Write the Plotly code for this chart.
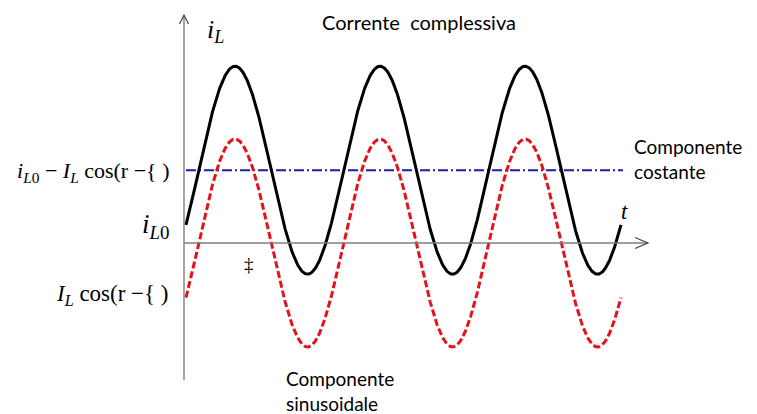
import numpy as np
import plotly.graph_objects as go

W, H = 757, 414

# Waveform parameters: time in periods, currents in units of I_L
n_periods = 3.0          # length of the drawn signal
t_peak = 0.338           # time of the first maximum of the sinusoidal part
I_L = 1.0                # amplitude of the sinusoidal component
i_L0_const = 0.70        # constant component
t_const_end = 3.014      # end of the constant-component line

t = np.linspace(0.0, n_periods, 1500)
i_sin = I_L * np.cos(2 * np.pi * (t - t_peak))
i_tot = i_L0_const + i_sin

# Scale of the drawing: pixels per period and per unit of current
X0, SX = 186.0, 145.0
Y0, SY = 243.0, 104.0


def tx(px):
    return (px - X0) / SX


def iy(py):
    return (Y0 - py) / SY


fig = go.Figure()

fig.add_trace(go.Scatter(
    x=[0.0, t_const_end], y=[i_L0_const, i_L0_const], mode="lines",
    line=dict(color="#1c1caa", width=2, dash="10px,3px,2px,3px"),
    hoverinfo="skip"))
fig.add_trace(go.Scatter(
    x=t, y=i_sin, mode="lines",
    line=dict(color="#e3121b", width=3, dash="7px,3px"),
    hoverinfo="skip"))
fig.add_trace(go.Scatter(
    x=t, y=i_tot, mode="lines",
    line=dict(color="#000000", width=3),
    hoverinfo="skip"))

axis_col = "#7f7f7f"
shapes = [
    # vertical axis with arrow
    dict(type="line", x0=tx(184), x1=tx(184), y0=iy(380), y1=iy(16),
         line=dict(color=axis_col, width=1.4)),
    dict(type="path",
         path=f"M {tx(179.5)} {iy(24)} L {tx(184)} {iy(15)} L {tx(188.5)} {iy(24)}",
         line=dict(color="#444444", width=1.2)),
    # horizontal axis with arrow
    dict(type="line", x0=tx(184), x1=tx(647), y0=0, y1=0,
         line=dict(color=axis_col, width=1.4)),
    dict(type="path",
         path=f"M {tx(635)} {iy(237.5)} L {tx(648)} {iy(243)} L {tx(635)} {iy(248.5)}",
         line=dict(color="#444444", width=1.2)),
]

serif = "Liberation Serif"
sans = "Lato"


def note(px, py, text, size, family, xanchor="left", color="#000000"):
    return dict(x=tx(px), y=iy(py), xref="x", yref="y", text=text,
                showarrow=False, xanchor=xanchor, yanchor="middle",
                align="left",
                font=dict(family=family, size=size, color=color))


annotations = [
    note(205, 31, "<i>i</i><sub><i>L</i></sub>", 26, serif),
    note(320, 22, "Corrente  complessiva", 20, sans),
    note(632, 159, "Componente<br>costante", 19, sans),
    note(284, 391, "Componente<br>sinusoidale", 19, sans),
    note(171, 172, "<i>i</i><sub><i>L</i>0</sub> − <i>I</i><sub><i>L</i></sub> cos(r −{ )", 22, serif, "right"),
    note(171, 226, "<i>i</i><sub><i>L</i>0</sub>", 27, serif, "right"),
    note(171, 295, "<i>I</i><sub><i>L</i></sub> cos(r −{ )", 23, serif, "right"),
    note(619, 211, "<i>t</i>", 23, serif),
    note(242, 264, "‡", 19, serif),
]

fig.update_layout(
    width=W, height=H,
    margin=dict(l=0, r=0, t=0, b=0),
    paper_bgcolor="white", plot_bgcolor="white",
    showlegend=False,
    xaxis=dict(range=[tx(0), tx(W)], visible=False, fixedrange=True),
    yaxis=dict(range=[iy(H), iy(0)], visible=False, fixedrange=True),
    shapes=shapes,
    annotations=annotations,
)

fig.write_html("out.html")
